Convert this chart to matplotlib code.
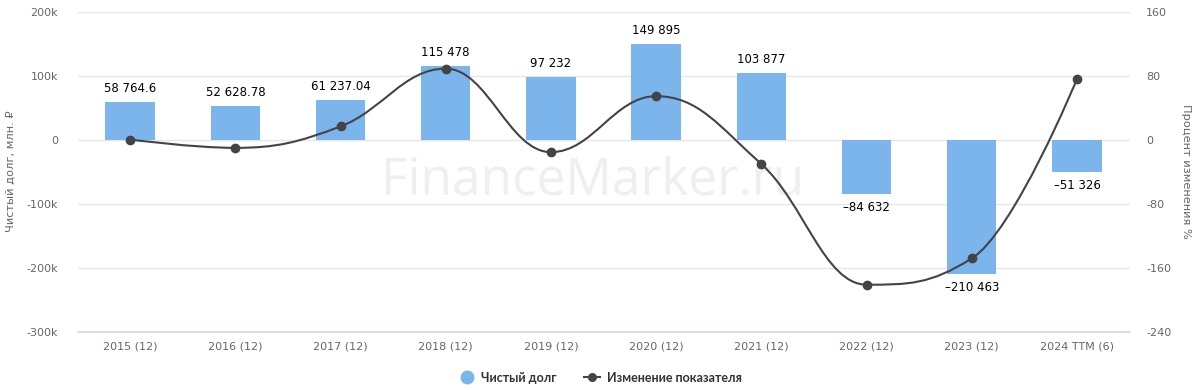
import matplotlib
matplotlib.use("Agg")
import matplotlib.pyplot as plt
from matplotlib.path import Path
from matplotlib.patches import PathPatch
from matplotlib.lines import Line2D
import numpy as np

categories = ["2015 (12)", "2016 (12)", "2017 (12)", "2018 (12)", "2019 (12)",
              "2020 (12)", "2021 (12)", "2022 (12)", "2023 (12)", "2024 TTM (6)"]
net_debt = [58764.6, 52628.78, 61237.04, 115478, 97232, 149895, 103877,
            -84632, -210463, -51326]
change_pct = [0, -10.44, 16.36, 88.58, -15.80, 54.16, -30.70, -181.47,
              -148.68, 75.61]
left_ticks = [200000, 100000, 0, -100000, -200000, -300000]
left_tick_labels = ["200k", "100k", "0", "-100k", "-200k", "-300k"]
right_ticks = [160, 80, 0, -80, -160, -240]

BAR_COLOR = "#7cb5ec"
LINE_COLOR = "#434348"
GRID = "#e6e6e6"
TICK_COLOR = "#666666"

plt.rcParams['font.family'] = ['DejaVu Sans']

fig = plt.figure(figsize=(12, 3.9), dpi=100)
ax = fig.add_axes([0.0646, 0.15, 0.8767, 0.8205])
ax2 = ax.twinx()

x = np.arange(len(categories))

# watermark
ax.text(0.49, 0.47, "FinanceMarker.ru", transform=ax.transAxes,
        fontsize=37, color="#efefef", ha="center", va="center",
        family="Open Sans", zorder=0)

ax.set_xlim(-0.5, len(categories) - 0.5)
ax.set_ylim(-300000, 200000)
ax2.set_ylim(-240, 160)

for t in left_ticks[:-1]:
    ax.axhline(t, color=GRID, linewidth=1, zorder=0.5)
ax.axhline(left_ticks[-1], color="#ccd6eb", linewidth=1.2, zorder=0.5,
           clip_on=False)

ax.bar(x, net_debt, width=0.47, color=BAR_COLOR, zorder=2)


def fmt(v):
    neg = v < 0
    v = abs(v)
    if float(v).is_integer():
        s = "{:,}".format(int(v)).replace(",", " ")
    else:
        ip = int(v)
        dec = ("%.2f" % v).split(".")[1].rstrip("0")
        s = "{:,}".format(ip).replace(",", " ") + "." + dec
    return ("–" if neg else "") + s


for xi, v in zip(x, net_debt):
    if v >= 0:
        ax.annotate(fmt(v), (xi, v), xytext=(0, 5), textcoords="offset points",
                    ha="center", va="bottom", fontsize=8.5, color="#000000",
                    zorder=5)
    else:
        ax.annotate(fmt(v), (xi, v), xytext=(0, -5), textcoords="offset points",
                    ha="center", va="top", fontsize=8.5, color="#000000",
                    zorder=5)

# Highcharts-like spline
xs = list(map(float, x))
ys = list(map(float, change_pct))
n = len(xs)
sm = 1.5
den = sm + 1
lc = [None] * n
rc = [None] * n
for i in range(n):
    if i == 0 or i == n - 1:
        lc[i] = (xs[i], ys[i])
        rc[i] = (xs[i], ys[i])
        continue
    lx, ly = xs[i - 1], ys[i - 1]
    nx, ny = xs[i + 1], ys[i + 1]
    px, py = xs[i], ys[i]
    lcx = (sm * px + lx) / den
    lcy = (sm * py + ly) / den
    rcx = (sm * px + nx) / den
    rcy = (sm * py + ny) / den
    if rcx != lcx:
        corr = ((rcy - lcy) * (rcx - px)) / (rcx - lcx) + py - rcy
        lcy += corr
        rcy += corr
    if lcy > ly and lcy > py:
        lcy = max(ly, py)
        rcy = 2 * py - lcy
    elif lcy < ly and lcy < py:
        lcy = min(ly, py)
        rcy = 2 * py - lcy
    if rcy > ny and rcy > py:
        rcy = max(ny, py)
        lcy = 2 * py - rcy
    elif rcy < ny and rcy < py:
        rcy = min(ny, py)
        lcy = 2 * py - rcy
    lc[i] = (lcx, lcy)
    rc[i] = (rcx, rcy)

verts = [(xs[0], ys[0])]
codes = [Path.MOVETO]
for i in range(n - 1):
    verts += [rc[i], lc[i + 1], (xs[i + 1], ys[i + 1])]
    codes += [Path.CURVE4] * 3
patch = PathPatch(Path(verts, codes), facecolor="none", edgecolor=LINE_COLOR,
                  linewidth=1.5, zorder=4)
ax2.add_patch(patch)
ax2.plot(x, change_pct, linestyle="none", marker="o", markersize=6,
         color=LINE_COLOR, zorder=5)

ax.set_xticks(x)
ax.set_xticklabels(categories)
ax.set_yticks(left_ticks)
ax.set_yticklabels(left_tick_labels)
ax2.set_yticks(right_ticks)
ax2.set_yticklabels([str(t) for t in right_ticks])

for a in (ax, ax2):
    for s in a.spines.values():
        s.set_visible(False)
    a.tick_params(axis="both", length=0, labelsize=8, labelcolor=TICK_COLOR)
ax.tick_params(axis="x", pad=7)
ax.tick_params(axis="y", pad=14)
ax2.tick_params(axis="y", pad=12)

ax.set_zorder(ax2.get_zorder() - 1)
ax.patch.set_visible(False)

ax.set_ylabel("Чистый долг, млн. ₽", fontsize=8.2, color=TICK_COLOR, labelpad=8)
ax2.set_ylabel("Процент изменения %", fontsize=8.2, color=TICK_COLOR,
               rotation=270, labelpad=14)

handles = [
    Line2D([], [], linestyle="none", marker="o", markersize=9,
           color=BAR_COLOR),
    Line2D([], [], color=LINE_COLOR, linewidth=1.5, marker="o",
           markersize=5.5),
]
fig.legend(handles, ["Чистый долг", "Изменение показателя"],
           loc="center", bbox_to_anchor=(0.5, 0.032), ncol=2, frameon=False,
           handlelength=1.3, columnspacing=2.2, handletextpad=0.5,
           prop={"family": "Lato", "weight": "bold", "size": 9})
for t in fig.legends[0].get_texts():
    t.set_color("#333333")

fig.savefig("out.png", dpi=100)
